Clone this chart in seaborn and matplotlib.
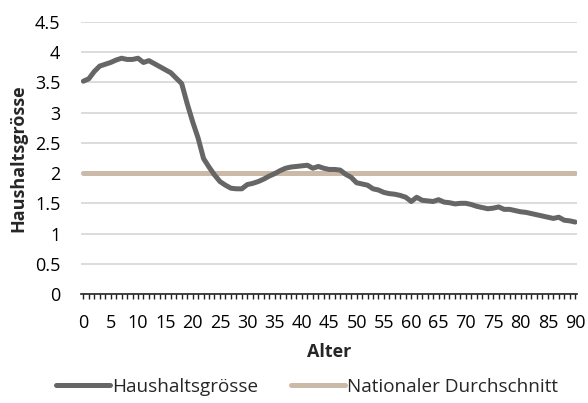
import numpy as np
import pandas as pd
import seaborn as sns
import matplotlib.pyplot as plt
from matplotlib.ticker import MultipleLocator, FuncFormatter

# data
alter = list(range(0, 91))
haushaltsgroesse = [
    3.52, 3.56, 3.68, 3.77, 3.80, 3.83, 3.87, 3.90, 3.88, 3.88,
    3.90, 3.83, 3.86, 3.81, 3.76, 3.71, 3.66, 3.57, 3.48, 3.15,
    2.85, 2.58, 2.24, 2.10, 1.97, 1.86, 1.80, 1.75, 1.74, 1.74,
    1.81, 1.83, 1.86, 1.90, 1.95, 1.99, 2.04, 2.08, 2.10, 2.11,
    2.12, 2.13, 2.08, 2.11, 2.08, 2.06, 2.06, 2.05, 1.98, 1.93,
    1.84, 1.82, 1.80, 1.74, 1.72, 1.68, 1.66, 1.65, 1.63, 1.60,
    1.53, 1.60, 1.55, 1.54, 1.53, 1.56, 1.52, 1.51, 1.49, 1.50,
    1.50, 1.48, 1.45, 1.43, 1.41, 1.42, 1.44, 1.40, 1.40, 1.38,
    1.36, 1.35, 1.33, 1.31, 1.29, 1.27, 1.25, 1.27, 1.22, 1.21,
    1.19,
]
national = [2.0] * len(alter)
series_names = ["Haushaltsgrösse", "Nationaler Durchschnitt"]

df = pd.concat([
    pd.DataFrame({"Alter": alter, "Wert": haushaltsgroesse, "Serie": series_names[0]}),
    pd.DataFrame({"Alter": alter, "Wert": national, "Serie": series_names[1]}),
])

sns.set_theme(style="white")
plt.rcParams['font.family'] = ['Open Sans', 'DejaVu Sans']

fig = plt.figure(figsize=(5.88, 4.03), dpi=100)
ax = fig.add_axes([0.138, 0.2705, 0.843, 0.675])

palette = {series_names[0]: "#666666", series_names[1]: "#cbbaa8"}
lw = 3.6
fs = 13
sns.lineplot(data=df, x="Alter", y="Wert", hue="Serie", palette=palette,
             hue_order=[series_names[1], series_names[0]],
             linewidth=lw, ax=ax, legend=False, solid_capstyle="round")

ax.set_xlim(-0.4, 90.3)
ax.set_ylim(0, 4.5)
ax.yaxis.set_major_locator(MultipleLocator(0.5))
ax.yaxis.set_major_formatter(FuncFormatter(lambda v, p: f"{v:g}"))
ax.xaxis.set_major_locator(MultipleLocator(5))
ax.xaxis.set_minor_locator(MultipleLocator(1))
ax.grid(axis="y", color="#d9d9d9", linewidth=1.3)
ax.set_axisbelow(True)

for s in ["left", "right", "top"]:
    ax.spines[s].set_visible(False)
ax.spines["bottom"].set_color("#222222")
ax.spines["bottom"].set_linewidth(1.2)

ax.tick_params(axis="x", which="both", bottom=True, direction="out", length=3.5,
               width=1, color="#222222")
ax.tick_params(axis="x", which="major", labelsize=fs, pad=11, labelcolor="#000000")
ax.tick_params(axis="y", left=False, length=0, labelsize=fs, pad=15,
               labelcolor="#000000")

ax.set_xlabel("Alter", fontsize=fs, fontweight="bold", labelpad=8)
ax.set_ylabel("Haushaltsgrösse", fontsize=fs, fontweight="bold", labelpad=5)

handles = [plt.Line2D([], [], color=palette[n], linewidth=lw, solid_capstyle="round")
           for n in series_names]
fig.legend(handles, series_names, loc="center", bbox_to_anchor=(0.522, 0.04),
           ncol=2, frameon=False, fontsize=13.6, handlelength=2.9,
           handletextpad=0.1, columnspacing=1.7)

fig.savefig("out.png", dpi=100)
